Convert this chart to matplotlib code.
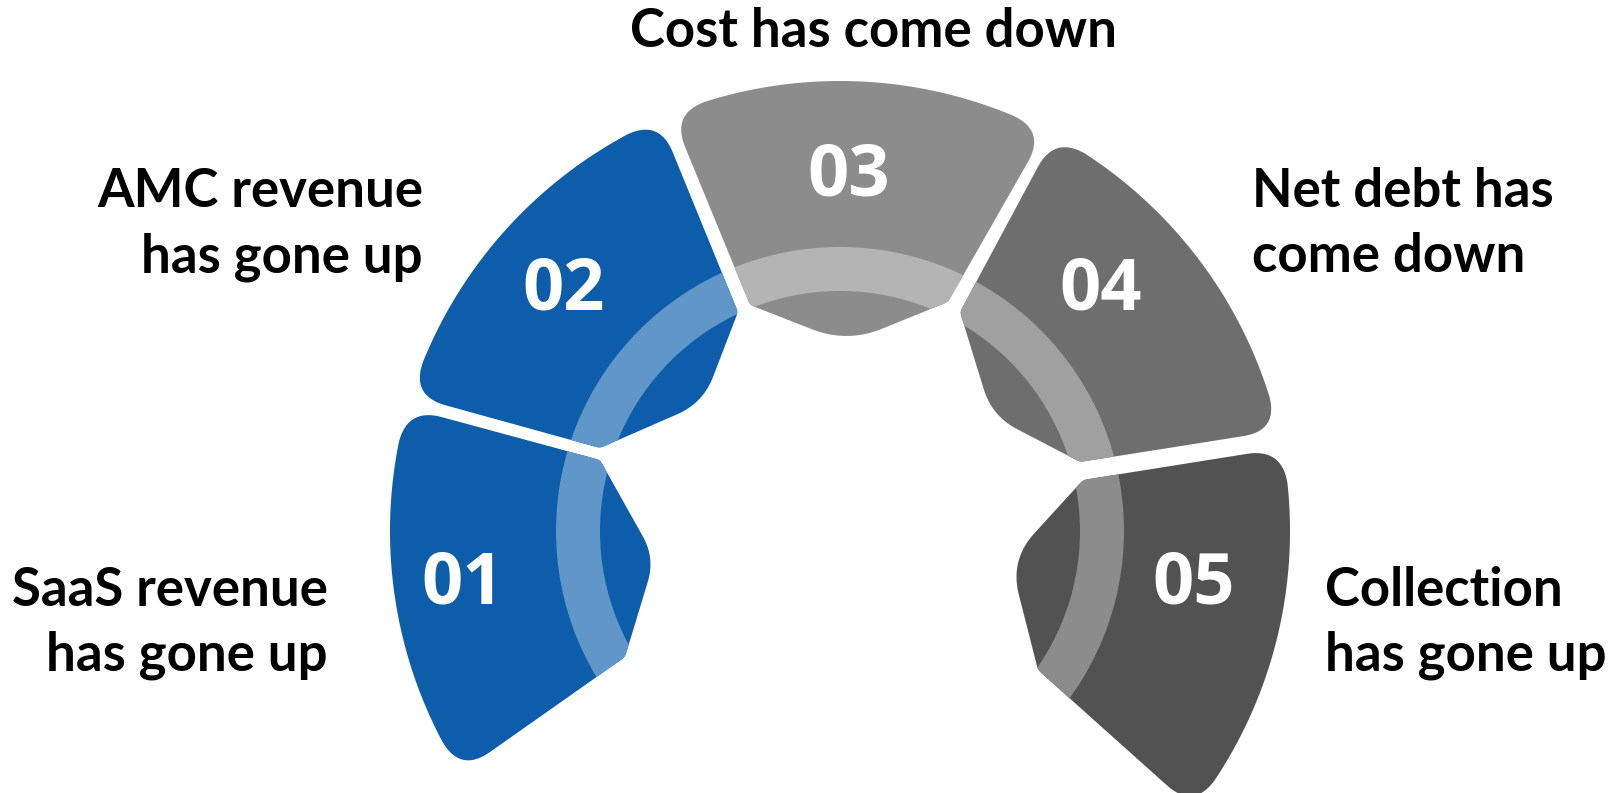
import numpy as np
import matplotlib.pyplot as plt
from matplotlib.patches import Polygon, Wedge

plt.rcParams['font.family'] = ['Lato', 'DejaVu Sans']

W, H = 1614, 793
cx, cy = 840, 531
r_out = 450
band_out, band_w = 284, 44

numbers = ["01", "02", "03", "04", "05"]
labels = [
    ["SaaS revenue", "has gone up"],
    ["AMC revenue", "has gone up"],
    ["Cost has come down"],
    ["Net debt has", "come down"],
    ["Collection", "has gone up"],
]
fills = ["#0E5DAA", "#0E5DAA", "#8C8C8C", "#6E6E6E", "#525252"]
bands = ["#6096C8", "#6096C8", "#B4B4B4", "#A0A0A0", "#8C8C8C"]

# each piece: outer arc from a0 to a1 (degrees), then inner corners (x, y, rounding)
shapes = [
    (164.1, 212.5, [(625, 657, 4), (655, 558, 25), (600, 460, 4)]),
    (113.7, 162.5, [(600, 448, 4), (703, 403, 28), (738, 312, 4)]),
    (62.8, 112.0, [(750, 305, 4), (847, 343, 38), (948, 302, 4)]),
    (12.9, 61.5, [(960, 312, 4), (992, 416, 28), (1080, 462, 4)]),
    (-38.2, 10.6, [(1083, 480, 4), (1010, 560, 36), (1038, 670, 4)]),
]
num_pos = [(463, 603), (564, 310), (849, 196), (1101, 310), (1194, 603)]
label_pos = [(328, 606, "right"), (423, 207, "right"), (873, 47, "center"),
             (1252, 207, "left"), (1325, 606, "left")]
line_gap = 65


def polar(a, r):
    a = np.radians(a)
    return np.column_stack([cx + r * np.cos(a), cy - r * np.sin(a)])


def trim_head(pts, d):
    seg = np.hypot(*np.diff(pts, axis=0).T)
    cum = np.concatenate([[0], np.cumsum(seg)])
    k = max(int(np.searchsorted(cum, d)), 1)
    t = (d - cum[k - 1]) / seg[k - 1]
    p = pts[k - 1] + t * (pts[k] - pts[k - 1])
    return np.vstack([p, pts[k:]])


def trim_tail(pts, d):
    return trim_head(pts[::-1], d)[::-1]


def outline(a0, a1, inner, d_out=36):
    nodes = [(polar(a0, r_out)[0], d_out), (polar(a1, r_out)[0], d_out)]
    nodes += [(np.array([x, y], float), d) for x, y, d in inner]
    n = len(nodes)
    edges = [polar(np.linspace(a0, a1, 300), r_out)]
    for i in range(1, n):
        edges.append(np.linspace(nodes[i][0], nodes[(i + 1) % n][0], 80))
    for i, (p, d) in enumerate(nodes):
        edges[i] = trim_head(edges[i], d)
        edges[i - 1] = trim_tail(edges[i - 1], d)
    t = np.linspace(0, 1, 24)[:, None]
    out = []
    for i, (p, d) in enumerate(nodes):
        a, b = edges[i - 1][-1], edges[i][0]
        out.append((1 - t) ** 2 * a + 2 * (1 - t) * t * p + t ** 2 * b)
        out.append(edges[i])
    return np.vstack(out)


fig = plt.figure(figsize=(W / 100, H / 100), dpi=100)
ax = fig.add_axes([0, 0, 1, 1])
ax.set_xlim(0, W)
ax.set_ylim(H, 0)
ax.axis('off')

for (a0, a1, inner), fc, bc in zip(shapes, fills, bands):
    poly = Polygon(outline(a0, a1, inner), closed=True, fc=fc, ec='none')
    ax.add_patch(poly)
    ring = Wedge((cx, cy), band_out, 0, 360, width=band_w, fc=bc, ec='none')
    ax.add_patch(ring)
    ring.set_clip_path(poly)

for num, (x, y) in zip(numbers, num_pos):
    ax.text(x, y, num, ha='center', va='baseline', color='white',
            fontsize=52, fontweight='bold', family=['Open Sans', 'DejaVu Sans'])

for lines, (x, y, ha) in zip(labels, label_pos):
    for i, s in enumerate(lines):
        ax.text(x, y + i * line_gap, s, ha=ha, va='baseline', color='black',
                fontsize=38, fontweight='bold')

fig.savefig('out.png', dpi=100)
